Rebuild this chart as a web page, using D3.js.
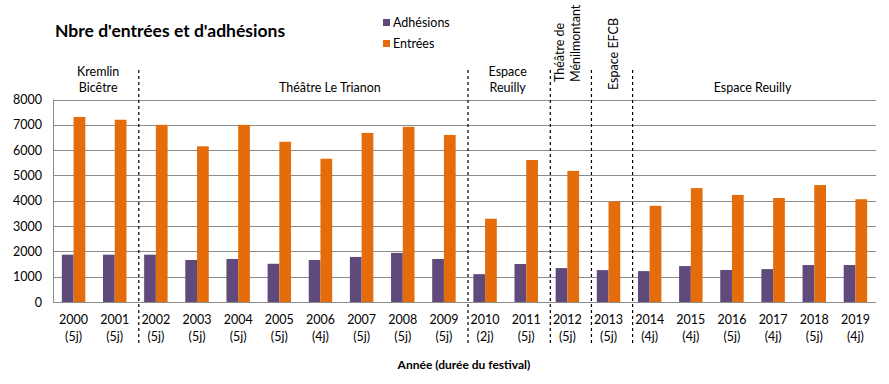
<!DOCTYPE html>
<html>
<head>
<meta charset="utf-8">
<style>
body { margin: 0; background: #fff; }
text { font-family: Lato, "Open Sans", sans-serif; fill: #000; }
</style>
</head>
<body>
<svg id="chart" width="889" height="384"></svg>
<script src="https://d3js.org/d3.v7.min.js"></script>
<script>
var years = ['2000','2001','2002','2003','2004','2005','2006','2007','2008','2009',
             '2010','2011','2012','2013','2014','2015','2016','2017','2018','2019'];
var durations = ['5j','5j','5j','5j','5j','5j','4j','5j','5j','5j',
                 '2j','5j','5j','5j','4j','4j','5j','4j','5j','4j'];
var adhesions = [1870,1870,1870,1660,1700,1510,1660,1780,1940,1700,
                 1100,1500,1340,1260,1220,1420,1265,1300,1460,1460];
var entrees = [7310,7200,7000,6150,7000,6330,5660,6680,6920,6600,
               3290,5610,5180,3970,3800,4500,4230,4110,4620,4060];
var yTicks = [0,1000,2000,3000,4000,5000,6000,7000,8000];
// venues: first year, last year, label lines, rotated?
var venues = [
  { from: '2000', to: '2001', lines: ['Kremlin', 'Bicêtre'], rotated: false },
  { from: '2002', to: '2009', lines: ['Théâtre Le Trianon'], rotated: false },
  { from: '2010', to: '2011', lines: ['Espace', 'Reuilly'], rotated: false },
  { from: '2012', to: '2012', lines: ['Théâtre de', 'Ménilmontant'], rotated: true },
  { from: '2013', to: '2013', lines: ['Espace EFCB'], rotated: true },
  { from: '2014', to: '2019', lines: ['Espace Reuilly'], rotated: false }
];
var colors = { adh: '#604a7b', ent: '#e46c0a' };

var svg = d3.select('#chart');
var mLeft = 53, mRight = 876, mTop = 99.5, mBottom = 302;

var x = d3.scaleBand().domain(years).range([mLeft, mRight]).padding(0);
var y = d3.scaleLinear().domain([0, 8000]).range([mBottom, mTop]);
var bw = x.bandwidth() * 0.285;

// grid
svg.append('g').selectAll('line').data(yTicks.slice(1)).enter().append('line')
  .attr('x1', mLeft).attr('x2', mRight)
  .attr('y1', function (d) { return Math.round(y(d)) + 0.5; })
  .attr('y2', function (d) { return Math.round(y(d)) + 0.5; })
  .attr('stroke', '#8c8c8c').attr('stroke-width', 1);

// bars
var g = svg.append('g');
g.selectAll('.adh').data(years).enter().append('rect')
  .attr('x', function (d) { return x(d) + x.bandwidth() / 2 - bw; })
  .attr('y', function (d, i) { return y(adhesions[i]); })
  .attr('width', bw)
  .attr('height', function (d, i) { return mBottom - y(adhesions[i]); })
  .attr('fill', colors.adh);
g.selectAll('.ent').data(years).enter().append('rect')
  .attr('x', function (d) { return x(d) + x.bandwidth() / 2; })
  .attr('y', function (d, i) { return y(entrees[i]); })
  .attr('width', bw)
  .attr('height', function (d, i) { return mBottom - y(entrees[i]); })
  .attr('fill', colors.ent);

// axes lines
svg.append('line').attr('x1', mLeft + 0.5).attr('x2', mLeft + 0.5).attr('y1', mTop).attr('y2', mBottom)
  .attr('stroke', '#8c8c8c');
svg.append('line').attr('x1', mLeft).attr('x2', mRight).attr('y1', mBottom + 0.5).attr('y2', mBottom + 0.5)
  .attr('stroke', '#8c8c8c');

// y labels
svg.append('g').selectAll('text').data(yTicks).enter().append('text')
  .attr('x', 42).attr('y', function (d) { return y(d) + 4.5; })
  .attr('text-anchor', 'end').attr('font-size', 12.5).text(function (d) { return d; });

// x labels
var xl = svg.append('g').selectAll('text').data(years).enter().append('text')
  .attr('text-anchor', 'middle').attr('font-size', 12.5);
xl.append('tspan').attr('y', 324).attr('x', function (d) { return x(d) + x.bandwidth() / 2; })
  .text(function (d) { return d; });
xl.append('tspan').attr('y', 341).attr('x', function (d) { return x(d) + x.bandwidth() / 2; })
  .text(function (d, i) { return '(' + durations[i] + ')'; });

// venue separators and labels (label nudges follow the original text boxes)
var labelDx = [4, 30, 2, -6, -2, 0];
var labelBase = [0, 0, 0, 82, 90, 0];
venues.forEach(function (v, i) {
  var x0 = x(v.from), x1 = x(v.to) + x.bandwidth();
  var cx = (x0 + x1) / 2 + labelDx[i];
  if (i > 0) {
    svg.append('line').attr('x1', x0 + 3.5).attr('x2', x0 + 3.5)
      .attr('y1', 70).attr('y2', 343)
      .attr('stroke', '#000').attr('stroke-width', 1.2).attr('stroke-dasharray', '3,3');
  }
  var n = v.lines.length;
  v.lines.forEach(function (line, j) {
    if (v.rotated) {
      var lx = cx + 3 + (j - (n - 1) / 2) * 16 + 8;
      svg.append('text').attr('font-size', 12.5)
        .attr('transform', 'translate(' + lx + ',' + labelBase[i] + ') rotate(-90)')
        .text(line);
    } else {
      svg.append('text').attr('font-size', 12.5).attr('text-anchor', 'middle')
        .attr('x', cx).attr('y', 92 - (n - 1 - j) * 16)
        .text(line);
    }
  });
});

// title
svg.append('text').attr('x', 55).attr('y', 37).attr('font-size', 17.5).attr('font-weight', 'bold')
  .text("Nbre d'entrées et d'adhésions");

// legend
var legend = [{ name: 'Adhésions', color: colors.adh }, { name: 'Entrées', color: colors.ent }];
var lg = svg.append('g').selectAll('g').data(legend).enter().append('g')
  .attr('transform', function (d, i) { return 'translate(383,' + (19 + i * 21) + ')'; });
lg.append('rect').attr('width', 7).attr('height', 7).attr('fill', function (d) { return d.color; });
lg.append('text').attr('x', 10).attr('y', 8).attr('font-size', 12.5).text(function (d) { return d.name; });

// x title
svg.append('text').attr('x', 464).attr('y', 369).attr('text-anchor', 'middle')
  .attr('font-size', 12).attr('font-weight', 'bold').text('Année (durée du festival)');
</script>
</body>
</html>
